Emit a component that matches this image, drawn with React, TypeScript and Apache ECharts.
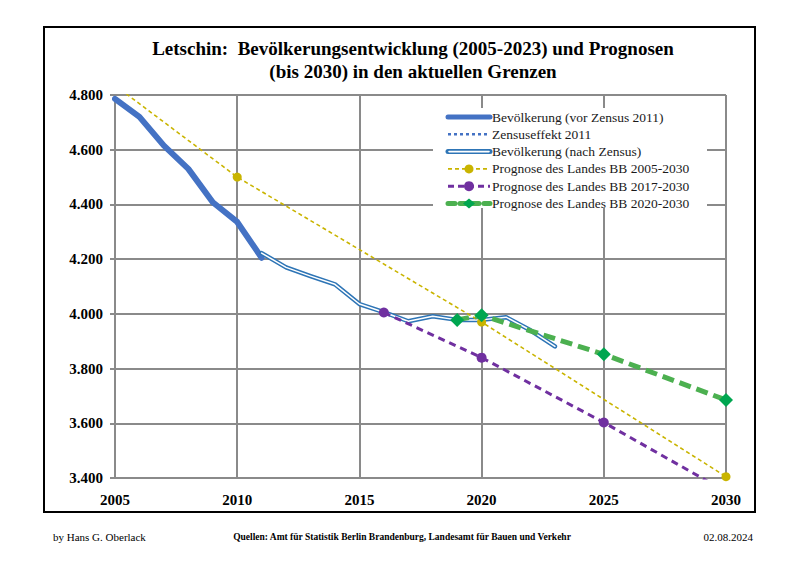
import React, { useEffect, useRef } from "react";
import * as echarts from "echarts";

const title1 = "Letschin:  Bevölkerungsentwicklung (2005-2023) und Prognosen";
const title2 = "(bis 2030) in den aktuellen Grenzen";
const footerLeft = "by Hans G. Oberlack";
const footerCenter = "Quellen: Amt für Statistik Berlin Brandenburg, Landesamt für Bauen und Verkehr";
const footerRight = "02.08.2024";

const seriesNames = [
  "Bevölkerung (vor Zensus 2011)",
  "Zensuseffekt 2011",
  "Bevölkerung (nach Zensus)",
  "Prognose des Landes BB 2005-2030",
  "Prognose des Landes BB 2017-2030",
  "Prognose des Landes BB 2020-2030",
];

const yearsVor = [2005, 2006, 2007, 2008, 2009, 2010, 2011];
const popVor = [4786, 4720, 4615, 4530, 4408, 4336, 4205];

const yearsZensus = [2011, 2011];
const popZensus = [4205, 4222];

const yearsNach = [2011, 2012, 2013, 2014, 2015, 2016, 2017, 2018, 2019, 2020, 2021, 2022, 2023];
const popNach = [4222, 4170, 4138, 4108, 4036, 4006, 3973, 3991, 3978, 3978, 3988, 3940, 3881];

const yearsProg2005 = [2005, 2010, 2020, 2030];
const popProg2005 = [4835, 4500, 3970, 3405];

const yearsProg2017 = [2016, 2020, 2025, 2030];
const popProg2017 = [4005, 3840, 3603, 3350];

const yearsProg2020 = [2019, 2020, 2025, 2030];
const popProg2020 = [3978, 3995, 3852, 3685];

const xMin = 2005;
const xMax = 2030;
const xStep = 5;
const yMin = 3400;
const yMax = 4800;
const yStep = 200;

const FONT = "Liberation Serif";
const BLUE = "#4472C4";
const BLUE2 = "#2E75B6";
const YELLOW = "#C9B400";
const PURPLE = "#7030A0";
const GREEN = "#4CB050";
const GREEN_M = "#00A650";
const GRID = "#8a8a8a";

const pairs = (xs: number[], ys: number[]) => xs.map((x, i) => [x, ys[i]]);

const fmt = (v: number) => {
  const t = Math.floor(v / 1000);
  const r = String(Math.round(v % 1000)).padStart(3, "0");
  return `${t}.${r}`;
};

function buildLegend() {
  const x1 = 448;
  const x2 = 490;
  const xm = (x1 + x2) / 2;
  const y0 = 117;
  const dy = 17.3;
  const els: any[] = [
    { type: "rect", shape: { x: 433, y: 108, width: 274, height: 100 }, style: { fill: "#ffffff" }, z: 50 },
  ];
  seriesNames.forEach((name, i) => {
    const y = y0 + i * dy;
    if (i === 0) {
      els.push({ type: "line", shape: { x1, y1: y, x2, y2: y }, style: { stroke: BLUE, lineWidth: 5, lineCap: "round" }, z: 51 });
    } else if (i === 1) {
      els.push({ type: "line", shape: { x1, y1: y, x2, y2: y }, style: { stroke: BLUE, lineWidth: 2.5, lineDash: [3, 3] }, z: 51 });
    } else if (i === 2) {
      els.push({ type: "line", shape: { x1, y1: y, x2, y2: y }, style: { stroke: BLUE2, lineWidth: 5, lineCap: "round" }, z: 51 });
      els.push({ type: "line", shape: { x1: x1 + 1, y1: y, x2: x2 - 1, y2: y }, style: { stroke: "#ffffff", lineWidth: 1.6, lineCap: "round" }, z: 52 });
    } else if (i === 3) {
      els.push({ type: "line", shape: { x1, y1: y, x2, y2: y }, style: { stroke: YELLOW, lineWidth: 1.6, lineDash: [4, 3] }, z: 51 });
      els.push({ type: "circle", shape: { cx: xm, cy: y, r: 4.5 }, style: { fill: YELLOW }, z: 52 });
    } else if (i === 4) {
      els.push({ type: "line", shape: { x1, y1: y, x2, y2: y }, style: { stroke: PURPLE, lineWidth: 3, lineDash: [6, 4] }, z: 51 });
      els.push({ type: "circle", shape: { cx: xm, cy: y, r: 5 }, style: { fill: PURPLE }, z: 52 });
    } else {
      els.push({ type: "line", shape: { x1, y1: y, x2, y2: y }, style: { stroke: GREEN, lineWidth: 5, lineDash: [7, 5], lineCap: "round" }, z: 51 });
      els.push({
        type: "polygon",
        shape: { points: [[xm - 6, y], [xm, y - 5], [xm + 6, y], [xm, y + 5]] },
        style: { fill: GREEN_M },
        z: 52,
      });
    }
    els.push({
      type: "text",
      x: x2 + 2,
      y,
      style: { text: name, font: `13.5px "${FONT}"`, fill: "#1a1a1a", verticalAlign: "middle" },
      z: 53,
    });
  });
  return els;
}

export default function App() {
  const ref = useRef<HTMLDivElement>(null);
  useEffect(() => {
    if (!ref.current) return;
    const chart = echarts.init(ref.current, null, { renderer: "svg" });
    const option: any = {
      animation: false,
      backgroundColor: "#ffffff",
      grid: { left: 115, right: 74, top: 95, bottom: 88, containLabel: false },
      xAxis: {
        type: "value",
        min: xMin,
        max: xMax,
        interval: xStep,
        axisLine: { show: true, lineStyle: { color: GRID, width: 2 } },
        axisTick: { show: false },
        splitLine: { show: true, lineStyle: { color: GRID, width: 2 } },
        axisLabel: {
          margin: 14,
          color: "#000",
          fontFamily: FONT,
          fontWeight: "bold",
          fontSize: 15,
          formatter: (v: number) => String(v),
        },
      },
      yAxis: {
        type: "value",
        min: yMin,
        max: yMax,
        interval: yStep,
        axisLine: { show: true, lineStyle: { color: GRID, width: 2 } },
        axisTick: { show: true, length: 5, lineStyle: { color: GRID, width: 2 } },
        splitLine: { show: true, lineStyle: { color: GRID, width: 2 } },
        axisLabel: {
          margin: 12,
          color: "#000",
          fontFamily: FONT,
          fontWeight: "bold",
          fontSize: 15,
          formatter: (v: number) => fmt(v),
        },
      },
      series: [
        {
          name: seriesNames[0],
          type: "line",
          data: pairs(yearsVor, popVor),
          symbol: "none",
          lineStyle: { color: BLUE, width: 6, cap: "round", join: "round" },
          z: 3,
        },
        {
          name: seriesNames[1],
          type: "line",
          data: pairs(yearsZensus, popZensus),
          symbol: "none",
          lineStyle: { color: BLUE, width: 2, type: [2, 2] },
          z: 3,
        },
        {
          name: seriesNames[2],
          type: "line",
          data: pairs(yearsNach, popNach),
          symbol: "none",
          lineStyle: { color: BLUE2, width: 4.5, cap: "round", join: "round" },
          z: 4,
        },
        {
          name: seriesNames[2] + " ",
          type: "line",
          data: pairs(yearsNach, popNach),
          symbol: "none",
          lineStyle: { color: "#ffffff", width: 1.5, cap: "round", join: "round" },
          z: 4,
        },
        {
          name: seriesNames[3],
          type: "line",
          data: pairs(yearsProg2005, popProg2005),
          symbol: "circle",
          symbolSize: 9,
          itemStyle: { color: YELLOW },
          lineStyle: { color: YELLOW, width: 1.6, type: [4, 3] },
          z: 5,
        },
        {
          name: seriesNames[4],
          type: "line",
          data: pairs(yearsProg2017, popProg2017),
          symbol: "circle",
          symbolSize: 10,
          itemStyle: { color: PURPLE },
          lineStyle: { color: PURPLE, width: 3, type: [7, 5] },
          z: 6,
        },
        {
          name: seriesNames[5],
          type: "line",
          data: pairs(yearsProg2020, popProg2020),
          symbol: "diamond",
          symbolSize: 14,
          itemStyle: { color: GREEN_M },
          lineStyle: { color: GREEN, width: 5, type: [12, 6] },
          z: 7,
        },
      ],
      graphic: [
        {
          type: "rect",
          shape: { x: 44, y: 27, width: 711, height: 485 },
          style: { fill: "none", stroke: "#000", lineWidth: 2 },
          z: 60,
        },
        {
          type: "text",
          x: 413,
          y: 48,
          style: { text: title1, font: `bold 19px "${FONT}"`, fill: "#000", align: "center", verticalAlign: "middle" },
          z: 60,
        },
        {
          type: "text",
          x: 413,
          y: 71,
          style: { text: title2, font: `bold 19px "${FONT}"`, fill: "#000", align: "center", verticalAlign: "middle" },
          z: 60,
        },
        {
          type: "text",
          x: 53,
          y: 537,
          style: { text: footerLeft, font: `11px "${FONT}"`, fill: "#000", align: "left", verticalAlign: "middle" },
        },
        {
          type: "text",
          x: 402,
          y: 537,
          style: { text: footerCenter, font: `bold 9.5px "${FONT}"`, fill: "#000", align: "center", verticalAlign: "middle" },
        },
        {
          type: "text",
          x: 753,
          y: 537,
          style: { text: footerRight, font: `11px "${FONT}"`, fill: "#000", align: "right", verticalAlign: "middle" },
        },
        ...buildLegend(),
      ],
    };
    chart.setOption(option);
    return () => chart.dispose();
  }, []);
  return (
    <div
      ref={ref}
      style={{ position: "fixed", left: 0, top: 0, width: 800, height: 566, background: "#fff" }}
    />
  );
}
